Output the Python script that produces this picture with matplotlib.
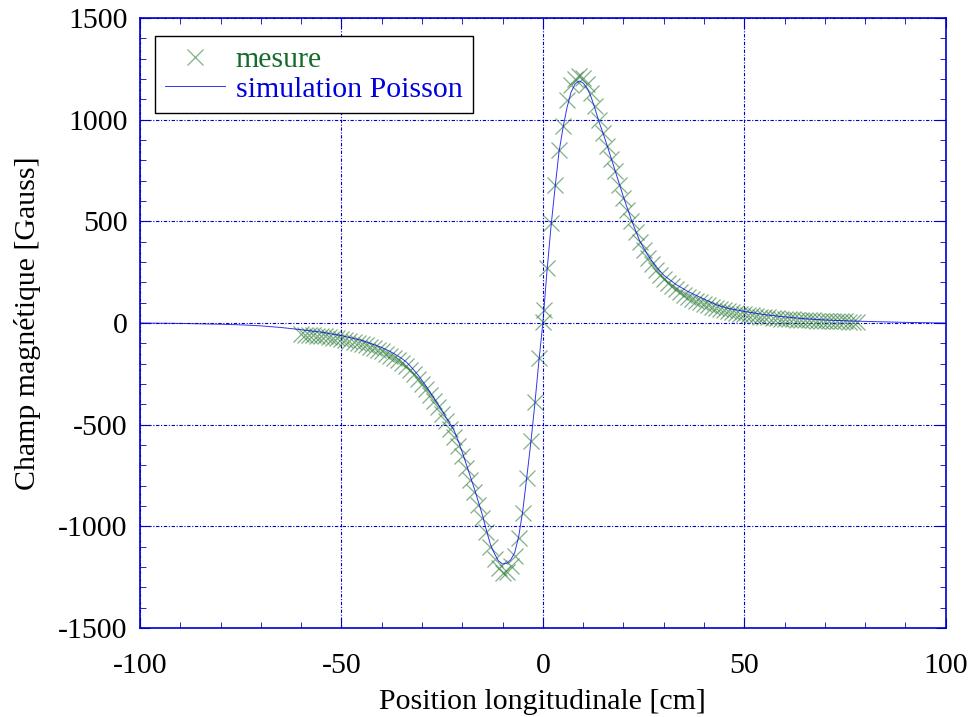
import numpy as np
import matplotlib
matplotlib.use("Agg")
import matplotlib.pyplot as plt
from matplotlib.ticker import MultipleLocator

# Simulation Poisson (courbe continue)
x_sim = [-100, -90, -80, -75, -70, -65, -60, -55, -50, -45, -43, -40, -38, -37, -36,
         -35, -34, -33, -32, -31, -30, -29, -28, -27, -26, -25, -24, -23, -22, -21,
         -20, -19, -18, -17, -16, -15, -14, -13, -12, -11, -10, -9, -8, -7, -6, -5,
         -4, -3, -2, -1, 0, 1, 2, 3, 4, 5, 6, 7, 8, 9, 10, 11, 12, 13, 14, 15, 16,
         18, 20, 22, 24, 26, 28, 30, 33, 36, 39, 43, 46, 50, 55, 60, 65, 70, 75, 80,
         90, 100]
y_sim = [0, -2, -6, -9, -14, -22, -33, -45, -62, -85, -99, -120, -139, -150, -162,
         -175, -190, -210, -232, -255, -282, -310, -340, -370, -400, -432, -465, -497,
         -530, -580, -635, -695, -755, -815, -880, -945, -1020, -1090, -1135, -1170,
         -1185, -1182, -1165, -1130, -1050, -925, -760, -590, -400, -190, 0, 250, 470,
         660, 840, 960, 1060, 1135, 1175, 1190, 1180, 1155, 1110, 1050, 985, 930, 870,
         745, 620, 505, 405, 335, 280, 235, 190, 155, 127, 90, 72, 57, 41, 30, 21, 15,
         11, 8, 3, 0]

# Mesures (pas de 1 cm, deux points autour de 0)
x_mes = list(range(-60, 1)) + [0.2] + list(range(1, 79))
y_mes = [-55, -57, -58, -60, -62, -64, -66, -69, -72, -75,
         -79, -83, -87, -92, -97, -103, -109, -116, -123, -131,
         -140, -150, -160, -171, -184, -198, -213, -232, -252, -274,
         -298, -325, -353, -384, -415, -448, -482, -520, -560, -605,
         -655, -712, -770, -832, -895, -960, -1030, -1100, -1160, -1205,
         -1230, -1225, -1195, -1145, -1055, -935, -760, -580, -390, -170,
         5, 65,
         270, 490, 680, 850, 970, 1095, 1170, 1200, 1215, 1205,
         1175, 1130, 1065, 1000, 935, 870, 805, 745, 680, 615,
         555, 500, 448, 400, 360, 322, 290, 262, 238, 216,
         198, 181, 166, 152, 140, 129, 119, 110, 102, 94,
         87, 80, 74, 68, 63, 58, 54, 50, 46, 43,
         40, 37, 34, 32, 30, 28, 26, 24, 22, 21,
         19, 18, 17, 16, 15, 14, 13, 12, 11, 10,
         10, 9, 9, 8, 8, 7, 7, 6]

plt.rcParams['font.family'] = ['Liberation Serif', 'DejaVu Serif']
plt.rcParams['font.size'] = 21.5
plt.rcParams['axes.unicode_minus'] = False

fig = plt.figure(figsize=(9.72, 7.17), dpi=100)
ax = fig.add_axes([0.144, 0.124, 0.829, 0.851])

ax.plot(x_mes, y_mes, linestyle='none', marker='x', markersize=11,
        markeredgewidth=0.9, color='#2e7d3a', alpha=0.6, label='mesure')
ax.plot(x_sim, y_sim, color='#0000ee', lw=0.7, alpha=0.8,
        label='simulation Poisson')

ax.set_xlim(-100, 100)
ax.set_ylim(-1500, 1500)
ax.xaxis.set_major_locator(MultipleLocator(50))
ax.xaxis.set_minor_locator(MultipleLocator(10))
ax.yaxis.set_major_locator(MultipleLocator(500))
ax.yaxis.set_minor_locator(MultipleLocator(100))

ax.grid(True, which='major', color='#0000cc', lw=0.8,
        linestyle=(0, (3, 1.5, 1, 1.5)))
for s in ax.spines.values():
    s.set_color('#0000cc')
    s.set_linestyle((0, (2, 1)))
    s.set_linewidth(1.2)

ax.tick_params(which='both', direction='in', top=True, right=True,
               color='#0000cc', labelsize=21.5)
ax.tick_params(axis='x', which='major', length=7, pad=18)
ax.tick_params(axis='y', which='major', length=7, pad=9)
ax.tick_params(which='minor', length=4)

ax.set_xlabel('Position longitudinale [cm]', labelpad=7)
ax.set_ylabel('Champ magnétique [Gauss]', labelpad=12)

leg = ax.legend(loc='upper left', bbox_to_anchor=(0.0186, 0.971), borderaxespad=0,
                fancybox=False, framealpha=1, edgecolor='black', handlelength=2.0,
                handletextpad=0.35, borderpad=0.35, labelspacing=0.1, fontsize=21.5)
leg.get_frame().set_linewidth(1.0)
leg.get_texts()[0].set_color('#146b2a')
leg.get_texts()[1].set_color('#0000dd')

fig.savefig('out.png', dpi=100)
